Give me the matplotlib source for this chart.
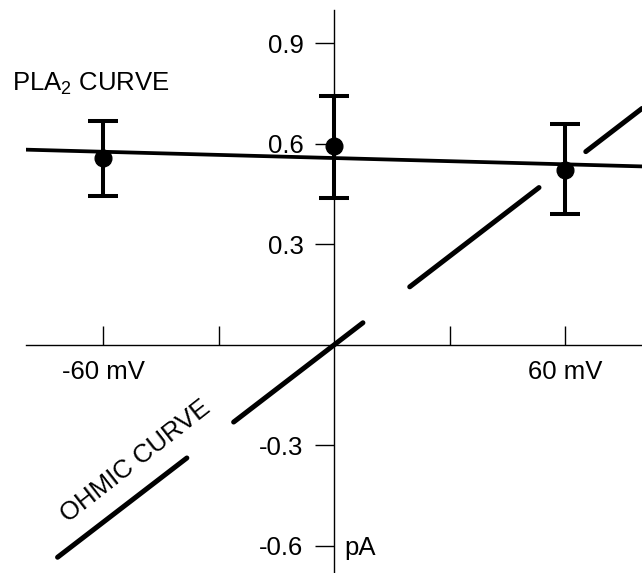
import matplotlib
matplotlib.use("Agg")
import matplotlib.pyplot as plt

plt.rcParams['font.family'] = ['Liberation Sans', 'DejaVu Sans']
plt.rcParams['mathtext.fontset'] = 'custom'
plt.rcParams['mathtext.rm'] = 'Liberation Sans'
plt.rcParams['mathtext.it'] = 'Liberation Sans'

# Data
pla2_v = [-60, 0, 60]
pla2_i = [0.558, 0.593, 0.522]
pla2_err_low = [0.113, 0.155, 0.132]
pla2_err_high = [0.112, 0.150, 0.138]

pla2_fit_v = [-80, 80]
pla2_fit_i = [0.583, 0.533]

ohmic_v = [-71.8, 80]
ohmic_i = [-0.634, 0.706]

xticks = [-60, -30, 30, 60]
xtick_labels = ["-60 mV", "", "", "60 mV"]
yticks = [-0.6, -0.3, 0.3, 0.6, 0.9]
ytick_labels = ["-0.6", "-0.3", "0.3", "0.6", "0.9"]

FS = 18.5

W, H = 642, 573
fig = plt.figure(figsize=(W / 100, H / 100), dpi=100)
ax = fig.add_axes([26 / W, 0, 616 / W, 563 / H])
ax.set_xlim(-80, 80)
ax.set_ylim(-0.681, 1.0)

for s in ['top', 'right']:
    ax.spines[s].set_visible(False)
ax.spines['left'].set_position(('data', 0))
ax.spines['bottom'].set_position(('data', 0))
for s in ['left', 'bottom']:
    ax.spines[s].set_linewidth(1.0)

ax.set_xticks(xticks)
ax.set_xticklabels(xtick_labels)
ax.set_yticks(yticks)
ax.set_yticklabels(ytick_labels)
ax.tick_params(axis='x', direction='in', length=14, width=1.0, pad=11, labelsize=FS)
ax.tick_params(axis='y', direction='out', length=14, width=1.0, pad=8, labelsize=FS)

# Ohmic dashed line
lw_o = 3.6
ln, = ax.plot(ohmic_v, ohmic_i, color='black', lw=lw_o, dash_capstyle='round', zorder=2)
ln.set_dashes((32.6, 11.8))

# PLA2 fit line
ax.plot(pla2_fit_v, pla2_fit_i, color='black', lw=2.7, solid_capstyle='round', zorder=3)

# Data points with error bars
ax.errorbar(pla2_v, pla2_i, yerr=[pla2_err_low, pla2_err_high], fmt='o', color='black',
            ms=12, capsize=11, elinewidth=2.9, capthick=2.9, zorder=4)

ax.text(0.018, 0.842, r"PLA$_{\mathrm{2}}$ CURVE", transform=fig.transFigure, fontsize=FS,
        ha='left', va='baseline')
ax.text(-51.5, -0.348, "OHMIC CURVE", fontsize=FS, rotation=38, rotation_mode='anchor',
        ha='center', va='center')
ax.text(2.6, -0.606, "pA", fontsize=FS, ha='left', va='center')

fig.savefig("out.png", dpi=100)
